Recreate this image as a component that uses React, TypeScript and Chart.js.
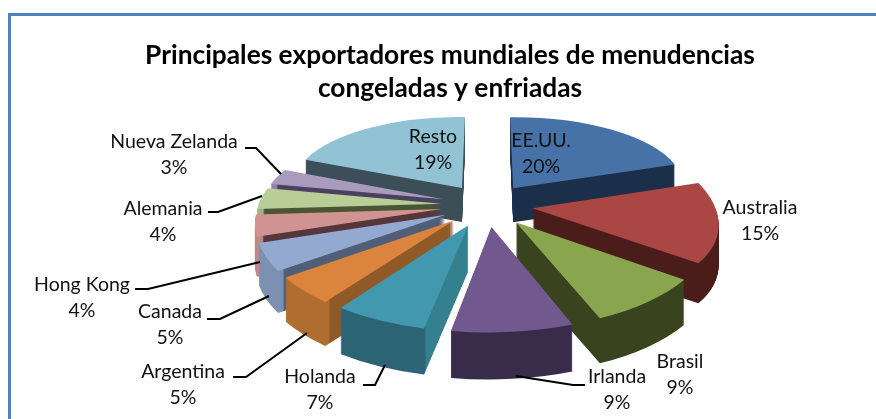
import React, { useEffect, useRef } from "react";
import { Chart, registerables } from "chart.js";

Chart.register(...registerables);

const titleLines = ["Principales exportadores mundiales de menudencias", "congeladas y enfriadas"];
const categories = ["EE.UU.", "Australia", "Brasil", "Irlanda", "Holanda", "Argentina", "Canada", "Hong Kong", "Alemania", "Nueva Zelanda", "Resto"];
const shares = [20, 15, 9, 9, 7, 5, 5, 4, 4, 3, 19];

const topColors = ["#4672a8", "#aa4643", "#89a54e", "#71588f", "#4198af", "#db843d", "#93a9cf", "#d19392", "#b9cd96", "#a99bbd", "#92c3d4"];
const cutColors = ["#1c2f4a", "#4a1c1a", "#39431e", "#3f3050", "#35808f", "#8f5a28", "#515e78", "#55363a", "#4a5535", "#4a4060", "#3c4f58"];
const rimColors = ["#1c2f4a", "#4a1c1a", "#39431e", "#382c4a", "#2c6475", "#b06d30", "#7c90b2", "#bb8a88", "#a0b080", "#8f82a5", "#3c4f58"];

// label anchors (text centre of name line) and leader polylines
const labelAnchors: [number, number][] = [[541, 141], [760, 208], [680, 362], [617, 377], [320, 377], [183, 372], [170, 312], [82, 285], [163, 209], [174, 142], [433, 137]];
const leaders: ([number, number][] | null)[] = [
  null, null, null,
  [[585, 385], [573, 385], [516, 376]],
  [[363, 385], [375, 385], [385, 365]],
  [[233, 377], [246, 377], [307, 333]],
  [[207, 319], [220, 319], [269, 296]],
  [[135, 289], [148, 289], [260, 262]],
  [[208, 212], [218, 212], [262, 196]],
  [[245, 148], [256, 148], [281, 174]],
  null,
];

const CX = 487, CY = 205, RX = 183, RY = 85, PERSP = 0.137, EXPLODE = 0.25, DEPTH = 39;

function project(u: number, v: number): [number, number] {
  const f = 1 / (1 - PERSP * v);
  return [CX + RX * u * f, CY + RY * v * f];
}

const pie3d = {
  id: "pie3d",
  beforeDraw(chart: any) {
    const ctx = chart.ctx;
    ctx.save();
    ctx.fillStyle = "#ffffff";
    ctx.fillRect(0, 0, chart.width, chart.height);
    ctx.fillStyle = "#4f81bd";
    ctx.fillRect(8, 13, chart.width - 8, 3);
    ctx.fillRect(8, 13, 3, chart.height - 13);
    ctx.restore();
  },
  beforeDatasetsDraw(chart: any) {
    const ctx = chart.ctx;
    const arcs: any[] = chart.getDatasetMeta(0).data;
    const items = arcs.map((arc, i) => {
      const { x, y, startAngle: a0, endAngle: a1, outerRadius: R } = arc;
      const mid = (a0 + a1) / 2;
      const ex = EXPLODE * Math.cos(mid), ey = EXPLODE * Math.sin(mid);
      const A0: [number, number] = [x, y];
      const A1: [number, number] = [x + R * Math.cos(a0), y + R * Math.sin(a0)];
      const A2: [number, number] = [x + R * Math.cos(a1), y + R * Math.sin(a1)];
      const T0 = project(ex, ey);
      const T1 = project(ex + Math.cos(a0), ey + Math.sin(a0));
      const T2 = project(ex + Math.cos(a1), ey + Math.sin(a1));
      const vx1 = A1[0] - A0[0], vy1 = A1[1] - A0[1], vx2 = A2[0] - A0[0], vy2 = A2[1] - A0[1];
      const tx1 = T1[0] - T0[0], ty1 = T1[1] - T0[1], tx2 = T2[0] - T0[0], ty2 = T2[1] - T0[1];
      const det = vx1 * vy2 - vx2 * vy1;
      const a = (tx1 * vy2 - tx2 * vy1) / det;
      const c = (-tx1 * vx2 + tx2 * vx1) / det;
      const b = (ty1 * vy2 - ty2 * vy1) / det;
      const d = (-ty1 * vx2 + ty2 * vx1) / det;
      const e = T0[0] - a * A0[0] - c * A0[1];
      const f = T0[1] - b * A0[0] - d * A0[1];
      const mv = Math.sin(mid);
      return { arc, i, m: [a, b, c, d, e, f] as number[], order: mv, depth: Math.round(DEPTH / (1 - PERSP * (mv * (1 + EXPLODE)))), x, y, R };
    });
    items.sort((p, q) => p.order - q.order);

    for (const it of items) {
      const grad = ctx.createRadialGradient(it.x, it.y, 0, it.x, it.y, it.R);
      grad.addColorStop(0, cutColors[it.i]);
      grad.addColorStop(0.96, cutColors[it.i]);
      grad.addColorStop(0.97, rimColors[it.i]);
      grad.addColorStop(1, rimColors[it.i]);
      const side = Object.create(it.arc);
      side.options = { ...it.arc.options, backgroundColor: grad, borderWidth: 0 };
      const [a, b, c, d, e, f] = it.m;
      for (let dz = it.depth; dz >= 1; dz--) {
        ctx.save();
        ctx.translate(0, dz);
        ctx.transform(a, b, c, d, e, f);
        side.draw(ctx);
        ctx.restore();
      }
      ctx.save();
      ctx.transform(a, b, c, d, e, f);
      it.arc.draw(ctx);
      ctx.restore();
    }
    return false;
  },
  afterDraw(chart: any) {
    const ctx = chart.ctx;
    ctx.save();
    ctx.strokeStyle = "#000000";
    ctx.lineWidth = 2;
    leaders.forEach((pts) => {
      if (!pts) return;
      ctx.beginPath();
      pts.forEach((p, k) => (k ? ctx.lineTo(p[0], p[1]) : ctx.moveTo(p[0], p[1])));
      ctx.stroke();
    });
    ctx.fillStyle = "#111111";
    ctx.textAlign = "center";
    ctx.textBaseline = "middle";
    ctx.font = '19.5px Lato';
    categories.forEach((name, i) => {
      const [x, y] = labelAnchors[i];
      ctx.fillText(name, x, y);
      ctx.fillText(`${shares[i]}%`, x, y + 26);
    });
    ctx.restore();
  },
};

export default function App() {
  const ref = useRef<HTMLCanvasElement>(null);
  useEffect(() => {
    const chart = new Chart(ref.current as HTMLCanvasElement, {
      type: "doughnut",
      data: {
        labels: categories,
        datasets: [{ data: shares, backgroundColor: topColors, borderWidth: 0 }],
      },
      options: {
        animation: false,
        responsive: false,
        cutout: 0,
        layout: { padding: { left: 24 } },
        plugins: {
          legend: { display: false },
          tooltip: { enabled: false },
          title: {
            display: true,
            text: titleLines,
            color: "#000000",
            font: { family: "Lato", size: 26.3, weight: "bold", lineHeight: 1.25 },
            padding: { top: 39, bottom: 10 },
          },
        },
      },
      plugins: [pie3d],
    } as any);
    return () => chart.destroy();
  }, []);
  return (
    <div style={{ position: "fixed", left: 0, top: 0, width: 876, height: 419, overflow: "hidden" }}>
      <canvas ref={ref} width={876} height={419} style={{ display: "block" }} />
    </div>
  );
}
